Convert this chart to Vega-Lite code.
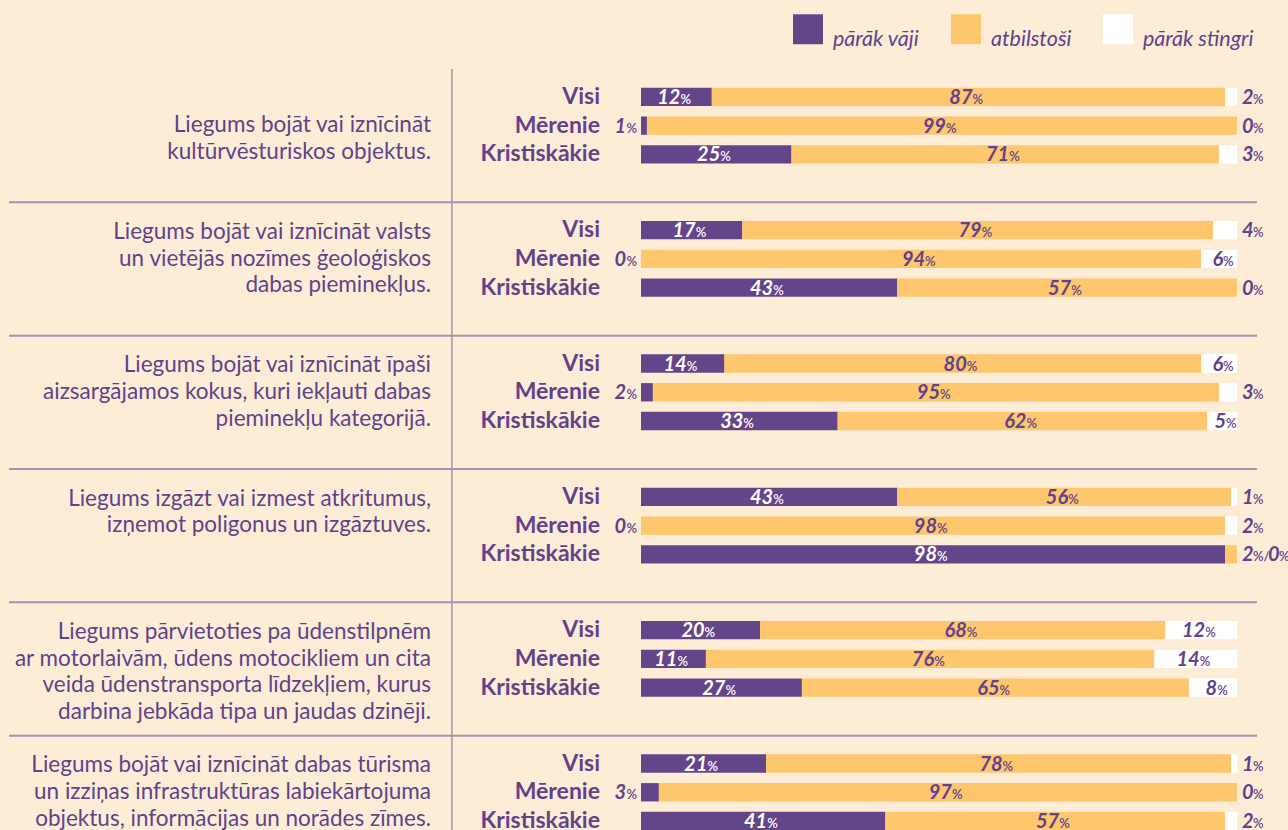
{
  "$schema": "https://vega.github.io/schema/vega-lite/v6.json",
  "width": 1288,
  "height": 830,
  "padding": 0,
  "autosize": {"type": "none"},
  "background": "#FEEDD6",
  "config": {"view": {"stroke": null}, "font": "Lato"},
  "layer": [
    {
      "data": {"values": [{"g": 1}, {"g": 2}, {"g": 3}, {"g": 4}, {"g": 5}, {"g": 6}]},
      "mark": {"type": "bar", "color": "#A88FB3"},
      "encoding": {
        "x": {"datum": -0.3185, "type": "quantitative", "scale": {"domain": [-1.0755, 1.0856], "nice": false, "zero": false}, "axis": null},
        "x2": {"datum": -0.316},
        "y": {"field": "g", "type": "ordinal", "scale": {"domain": [1, 2, 3, 4, 5, 6], "range": [69, 869], "paddingInner": 0, "paddingOuter": 0}, "axis": null}
      }
    },
    {
      "data": {"values": [{"g": 2}, {"g": 3}, {"g": 4}, {"g": 5}, {"g": 6}]},
      "mark": {"type": "rule", "color": "#A88FB3", "strokeWidth": 2},
      "encoding": {
        "x": {"datum": -1.0604, "type": "quantitative"},
        "x2": {"datum": 1.0336},
        "y": {"field": "g", "type": "ordinal", "bandPosition": 0}
      }
    },
    {
      "data": {"values": [
        {"g": 1, "q": "\nLiegums bojāt vai iznīcināt\nkultūrvēsturiskos objektus."},
        {"g": 2, "q": "Liegums bojāt vai iznīcināt valsts\nun vietējās nozīmes ģeoloģiskos\ndabas pieminekļus."},
        {"g": 3, "q": "Liegums bojāt vai iznīcināt īpaši\naizsargājamos kokus, kuri iekļauti dabas\npieminekļu kategorijā."},
        {"g": 4, "q": "Liegums izgāzt vai izmest atkritumus,\nizņemot poligonus un izgāztuves."},
        {"g": 5, "q": "Liegums pārvietoties pa ūdenstilpnēm\nar motorlaivām, ūdens motocikliem un cita\nveida ūdenstransporta līdzekļiem, kurus\ndarbina jebkāda tipa un jaudas dzinēji."},
        {"g": 6, "q": "Liegums bojāt vai iznīcināt dabas tūrisma\nun izziņas infrastruktūras labiekārtojuma\nobjektus, informācijas un norādes zīmes."}
      ]},
      "mark": {"type": "text", "align": "right", "baseline": "alphabetic", "lineBreak": "\n", "lineHeight": 26.67, "fontSize": 22.5, "color": "#61428B"},
      "encoding": {
        "x": {"datum": -0.3523, "type": "quantitative"},
        "y": {"field": "g", "type": "ordinal", "bandPosition": 0.275},
        "text": {"field": "q"}
      }
    },
    {
      "data": {"values": [
        {"g": 1, "s": "Visi", "c": "pārāk vāji", "k": 1, "v": 12},
        {"g": 1, "s": "Visi", "c": "atbilstoši", "k": 2, "v": 87},
        {"g": 1, "s": "Visi", "c": "pārāk stingri", "k": 3, "v": 2},
        {"g": 1, "s": "Mērenie", "c": "pārāk vāji", "k": 1, "v": 1},
        {"g": 1, "s": "Mērenie", "c": "atbilstoši", "k": 2, "v": 99},
        {"g": 1, "s": "Mērenie", "c": "pārāk stingri", "k": 3, "v": 0},
        {"g": 1, "s": "Kristiskākie", "c": "pārāk vāji", "k": 1, "v": 25},
        {"g": 1, "s": "Kristiskākie", "c": "atbilstoši", "k": 2, "v": 71},
        {"g": 1, "s": "Kristiskākie", "c": "pārāk stingri", "k": 3, "v": 3},
        {"g": 2, "s": "Visi", "c": "pārāk vāji", "k": 1, "v": 17},
        {"g": 2, "s": "Visi", "c": "atbilstoši", "k": 2, "v": 79},
        {"g": 2, "s": "Visi", "c": "pārāk stingri", "k": 3, "v": 4},
        {"g": 2, "s": "Mērenie", "c": "pārāk vāji", "k": 1, "v": 0},
        {"g": 2, "s": "Mērenie", "c": "atbilstoši", "k": 2, "v": 94},
        {"g": 2, "s": "Mērenie", "c": "pārāk stingri", "k": 3, "v": 6},
        {"g": 2, "s": "Kristiskākie", "c": "pārāk vāji", "k": 1, "v": 43},
        {"g": 2, "s": "Kristiskākie", "c": "atbilstoši", "k": 2, "v": 57},
        {"g": 2, "s": "Kristiskākie", "c": "pārāk stingri", "k": 3, "v": 0},
        {"g": 3, "s": "Visi", "c": "pārāk vāji", "k": 1, "v": 14},
        {"g": 3, "s": "Visi", "c": "atbilstoši", "k": 2, "v": 80},
        {"g": 3, "s": "Visi", "c": "pārāk stingri", "k": 3, "v": 6},
        {"g": 3, "s": "Mērenie", "c": "pārāk vāji", "k": 1, "v": 2},
        {"g": 3, "s": "Mērenie", "c": "atbilstoši", "k": 2, "v": 95},
        {"g": 3, "s": "Mērenie", "c": "pārāk stingri", "k": 3, "v": 3},
        {"g": 3, "s": "Kristiskākie", "c": "pārāk vāji", "k": 1, "v": 33},
        {"g": 3, "s": "Kristiskākie", "c": "atbilstoši", "k": 2, "v": 62},
        {"g": 3, "s": "Kristiskākie", "c": "pārāk stingri", "k": 3, "v": 5},
        {"g": 4, "s": "Visi", "c": "pārāk vāji", "k": 1, "v": 43},
        {"g": 4, "s": "Visi", "c": "atbilstoši", "k": 2, "v": 56},
        {"g": 4, "s": "Visi", "c": "pārāk stingri", "k": 3, "v": 1},
        {"g": 4, "s": "Mērenie", "c": "pārāk vāji", "k": 1, "v": 0},
        {"g": 4, "s": "Mērenie", "c": "atbilstoši", "k": 2, "v": 98},
        {"g": 4, "s": "Mērenie", "c": "pārāk stingri", "k": 3, "v": 2},
        {"g": 4, "s": "Kristiskākie", "c": "pārāk vāji", "k": 1, "v": 98},
        {"g": 4, "s": "Kristiskākie", "c": "atbilstoši", "k": 2, "v": 2},
        {"g": 4, "s": "Kristiskākie", "c": "pārāk stingri", "k": 3, "v": 0},
        {"g": 5, "s": "Visi", "c": "pārāk vāji", "k": 1, "v": 20},
        {"g": 5, "s": "Visi", "c": "atbilstoši", "k": 2, "v": 68},
        {"g": 5, "s": "Visi", "c": "pārāk stingri", "k": 3, "v": 12},
        {"g": 5, "s": "Mērenie", "c": "pārāk vāji", "k": 1, "v": 11},
        {"g": 5, "s": "Mērenie", "c": "atbilstoši", "k": 2, "v": 76},
        {"g": 5, "s": "Mērenie", "c": "pārāk stingri", "k": 3, "v": 14},
        {"g": 5, "s": "Kristiskākie", "c": "pārāk vāji", "k": 1, "v": 27},
        {"g": 5, "s": "Kristiskākie", "c": "atbilstoši", "k": 2, "v": 65},
        {"g": 5, "s": "Kristiskākie", "c": "pārāk stingri", "k": 3, "v": 8},
        {"g": 6, "s": "Visi", "c": "pārāk vāji", "k": 1, "v": 21},
        {"g": 6, "s": "Visi", "c": "atbilstoši", "k": 2, "v": 78},
        {"g": 6, "s": "Visi", "c": "pārāk stingri", "k": 3, "v": 1},
        {"g": 6, "s": "Mērenie", "c": "pārāk vāji", "k": 1, "v": 3},
        {"g": 6, "s": "Mērenie", "c": "atbilstoši", "k": 2, "v": 97},
        {"g": 6, "s": "Mērenie", "c": "pārāk stingri", "k": 3, "v": 0},
        {"g": 6, "s": "Kristiskākie", "c": "pārāk vāji", "k": 1, "v": 41},
        {"g": 6, "s": "Kristiskākie", "c": "atbilstoši", "k": 2, "v": 57},
        {"g": 6, "s": "Kristiskākie", "c": "pārāk stingri", "k": 3, "v": 2}
      ]},
      "transform": [
        {"stack": "v", "groupby": ["g", "s"], "sort": [{"field": "k", "order": "ascending"}], "offset": "normalize", "as": ["x0", "x1"]},
        {"calculate": "(datum.x0 + datum.x1) / 2", "as": "xm"}
      ],
      "encoding": {
        "y": {"field": "g", "type": "ordinal"},
        "yOffset": {"field": "s", "type": "nominal", "sort": ["Visi", "Mērenie", "Kristiskākie"], "scale": {"paddingInner": 0.3625, "paddingOuter": 1.181, "align": 0.325}}
      },
      "layer": [
        {
          "mark": {"type": "bar"},
          "encoding": {
            "x": {"field": "x0", "type": "quantitative", "scale": {"domain": [-1.0755, 1.0856], "nice": false, "zero": false}},
            "x2": {"field": "x1"},
            "color": {
              "field": "c", "type": "nominal",
              "scale": {"domain": ["pārāk vāji", "atbilstoši", "pārāk stingri"], "range": ["#654589", "#FEC66D", "#FFFFFF"]},
              "legend": {
                "title": null, "orient": "none", "legendX": 793, "legendY": 14, "direction": "horizontal",
                "symbolType": "square", "symbolSize": 900, "symbolStrokeWidth": 0, "symbolOpacity": 1,
                "labelFont": "Lato", "labelFontStyle": "italic", "labelFontSize": 21.5, "labelColor": "#61428B",
                "labelBaseline": "top", "labelOffset": 10, "columnPadding": 31, "labelLimit": 200
              }
            }
          }
        },
        {
          "transform": [{"filter": "datum.c === 'pārāk vāji'"}],
          "mark": {"type": "text", "align": "right", "baseline": "middle", "fontSize": 23, "fontWeight": "bold", "color": "#61428B"},
          "encoding": {"x": {"datum": -0.0688, "type": "quantitative"}, "text": {"field": "s"}}
        },
        {
          "transform": [{"filter": "datum.v >= 5"}],
          "mark": {"type": "text", "align": "right", "baseline": "alphabetic", "dx": 4, "dy": 7, "fontSize": 20, "fontWeight": "bold", "fontStyle": "italic"},
          "encoding": {
            "x": {"field": "xm", "type": "quantitative"},
            "text": {"field": "v", "type": "quantitative"},
            "color": {"condition": {"test": "datum.c === 'pārāk vāji'", "value": "#FFFFFF"}, "value": "#61428B"}
          }
        },
        {
          "transform": [{"filter": "datum.v >= 5"}],
          "mark": {"type": "text", "align": "left", "baseline": "alphabetic", "dx": 4, "dy": 7, "fontSize": 13, "fontWeight": 600, "text": "%"},
          "encoding": {
            "x": {"field": "xm", "type": "quantitative"},
            "color": {"condition": {"test": "datum.c === 'pārāk vāji'", "value": "#FFFFFF"}, "value": "#61428B"}
          }
        },
        {
          "transform": [{"filter": "datum.c === 'pārāk vāji' && datum.v < 5"}],
          "mark": {"type": "text", "align": "right", "baseline": "alphabetic", "dx": -15, "dy": 7, "fontSize": 20, "fontWeight": "bold", "fontStyle": "italic", "color": "#61428B"},
          "encoding": {"x": {"datum": 0, "type": "quantitative"}, "text": {"field": "v", "type": "quantitative"}}
        },
        {
          "transform": [{"filter": "datum.c === 'pārāk vāji' && datum.v < 5"}],
          "mark": {"type": "text", "align": "right", "baseline": "alphabetic", "dx": -4, "dy": 7, "fontSize": 13, "fontWeight": 600, "color": "#61428B", "text": "%"},
          "encoding": {"x": {"datum": 0, "type": "quantitative"}}
        },
        {
          "transform": [{"filter": "(datum.c === 'pārāk stingri' || datum.c === 'atbilstoši') && datum.v < 5 && !(datum.c === 'pārāk stingri' && datum.g === 4 && datum.s === 'Kristiskākie')"}],
          "mark": {"type": "text", "align": "left", "baseline": "alphabetic", "dx": 5, "dy": 7, "fontSize": 20, "fontWeight": "bold", "fontStyle": "italic", "color": "#61428B"},
          "encoding": {"x": {"datum": 1, "type": "quantitative"}, "text": {"field": "v", "type": "quantitative"}}
        },
        {
          "transform": [{"filter": "datum.c === 'pārāk stingri' && datum.v < 5 && !(datum.g === 4 && datum.s === 'Kristiskākie')"}],
          "mark": {"type": "text", "align": "left", "baseline": "alphabetic", "dx": 16, "dy": 7, "fontSize": 13, "fontWeight": 600, "color": "#61428B", "text": "%"},
          "encoding": {"x": {"datum": 1, "type": "quantitative"}}
        },
        {
          "transform": [{"filter": "datum.c === 'atbilstoši' && datum.v < 5"}],
          "mark": {"type": "text", "align": "left", "baseline": "alphabetic", "dx": 16, "dy": 7, "fontSize": 13, "fontWeight": 600, "color": "#61428B", "text": "%/"},
          "encoding": {"x": {"datum": 1, "type": "quantitative"}}
        },
        {
          "transform": [{"filter": "datum.c === 'pārāk stingri' && datum.g === 4 && datum.s === 'Kristiskākie'"}],
          "mark": {"type": "text", "align": "left", "baseline": "alphabetic", "dx": 31, "dy": 7, "fontSize": 20, "fontWeight": "bold", "fontStyle": "italic", "color": "#61428B"},
          "encoding": {"x": {"datum": 1, "type": "quantitative"}, "text": {"field": "v", "type": "quantitative"}}
        },
        {
          "transform": [{"filter": "datum.c === 'pārāk stingri' && datum.g === 4 && datum.s === 'Kristiskākie'"}],
          "mark": {"type": "text", "align": "left", "baseline": "alphabetic", "dx": 42, "dy": 7, "fontSize": 13, "fontWeight": 600, "color": "#61428B", "text": "%"},
          "encoding": {"x": {"datum": 1, "type": "quantitative"}}
        }
      ]
    }
  ]
}
